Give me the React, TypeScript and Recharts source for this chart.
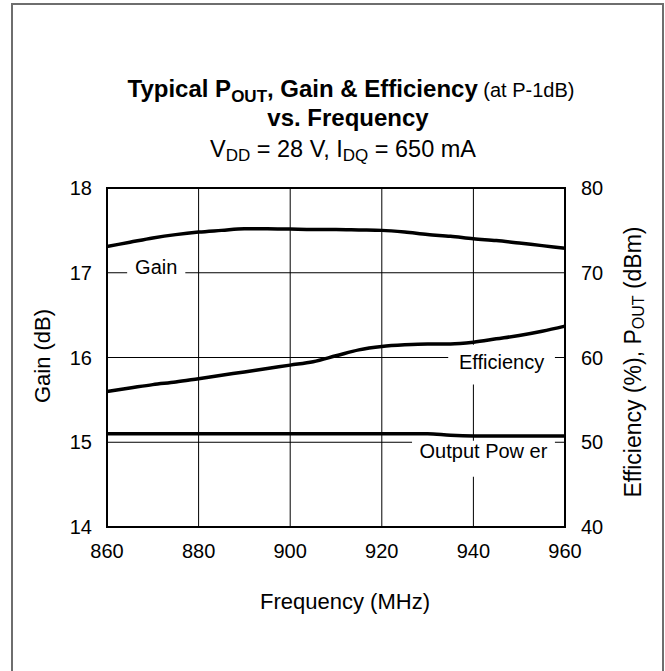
import React from 'react';
import { LineChart, Line, XAxis, YAxis, CartesianGrid, ReferenceArea } from 'recharts';

const frequencies = [860, 865, 870, 875, 880, 885, 890, 895, 900, 905, 910, 915, 920, 925, 930, 935, 940, 945, 950, 955, 960];
const gainDb = [17.31, 17.36, 17.41, 17.45, 17.48, 17.5, 17.52, 17.52, 17.515, 17.51, 17.51, 17.505, 17.5, 17.48, 17.45, 17.43, 17.4, 17.38, 17.35, 17.32, 17.29];
const efficiencyPct = [56.0, 56.4, 56.8, 57.1, 57.5, 57.9, 58.3, 58.7, 59.1, 59.5, 60.2, 60.9, 61.3, 61.5, 61.6, 61.6, 61.8, 62.2, 62.6, 63.1, 63.7];
const outputPowerDbm = [51.0, 51.0, 51.0, 51.0, 51.0, 51.0, 51.0, 51.0, 51.0, 51.0, 51.0, 51.0, 51.0, 51.0, 51.0, 50.82, 50.75, 50.75, 50.75, 50.75, 50.75];
const xTicks = [860, 880, 900, 920, 940, 960];
const gainTicks = [14, 15, 16, 17, 18];
const rightTicks = [40, 50, 60, 70, 80];

const data = frequencies.map((f, i) => ({
  freq: f,
  gain: gainDb[i],
  efficiency: efficiencyPct[i],
  pout: outputPowerDbm[i],
}));

const FONT = '"Liberation Sans", Arial, Helvetica, sans-serif';

const boxLabel = (text: string, dy: number) => (props: any) => {
  const vb = props.viewBox || props;
  const cx = vb.x + vb.width / 2;
  const cy = vb.y + vb.height / 2 + dy;
  return (
    <text x={cx} y={cy + 7} textAnchor="middle" fontFamily={FONT} fontSize={20} fill="#000">
      {text}
    </text>
  );
};

const tickStyle = { fill: '#000', fontSize: 20, fontFamily: FONT };

export default function App() {
  return (
    <div style={{ position: 'absolute', left: 0, top: 0, width: 665, height: 671, overflow: 'hidden', background: '#fff' }}>
      <div
        style={{
          position: 'absolute',
          left: 11,
          top: 3,
          width: 649,
          height: 720,
          borderLeft: '2px solid #6e6e6e',
          borderRight: '2px solid #6e6e6e',
          borderTop: '2px solid #6e6e6e',
        }}
      />
      <div style={{ position: 'absolute', left: 0, top: 0 }}>
        <LineChart width={665} height={671} data={data} margin={{ top: 188, right: 40, bottom: 114, left: 47 }}>
          <CartesianGrid yAxisId="left" stroke="#000" strokeWidth={1} fill="none" />
          <XAxis
            dataKey="freq"
            type="number"
            domain={[860, 960]}
            ticks={xTicks}
            interval={0}
            axisLine={false}
            tickLine={false}
            tickMargin={11}
            height={30}
            tick={tickStyle}
          />
          <YAxis
            yAxisId="left"
            orientation="left"
            domain={[14, 18]}
            ticks={gainTicks}
            interval={0}
            width={60}
            axisLine={false}
            tickLine={false}
            tickMargin={9}
            tick={tickStyle}
          />
          <YAxis
            yAxisId="right"
            orientation="right"
            domain={[40, 80]}
            ticks={rightTicks}
            interval={0}
            width={60}
            axisLine={false}
            tickLine={false}
            tickMargin={10}
            tick={tickStyle}
          />
          <ReferenceArea yAxisId="left" x1={864.4} x2={877.1} y1={16.89} y2={17.24} fill="#fff" fillOpacity={1} stroke="none" label={boxLabel('Gain', 0)} />
          <ReferenceArea yAxisId="right" x1={934.5} x2={957.8} y1={56.8} y2={61.5} fill="#fff" fillOpacity={1} stroke="none" label={boxLabel('Efficiency', -3)} />
          <ReferenceArea yAxisId="right" x1={926.6} x2={957.8} y1={45.93} y2={50.18} fill="#fff" fillOpacity={1} stroke="none" label={boxLabel('Output Pow er', -7.5)} />
          <ReferenceArea yAxisId="left" x1={860} x2={960} y1={14} y2={18} fill="none" stroke="#000" strokeWidth={2} />
          <Line yAxisId="left" type="monotone" dataKey="gain" stroke="#000" strokeWidth={3.5} dot={false} isAnimationActive={false} />
          <Line yAxisId="right" type="monotone" dataKey="efficiency" stroke="#000" strokeWidth={3.5} dot={false} isAnimationActive={false} />
          <Line yAxisId="right" type="monotone" dataKey="pout" stroke="#000" strokeWidth={3.5} dot={false} isAnimationActive={false} />
        </LineChart>
      </div>
      <svg width={665} height={671} style={{ position: 'absolute', left: 0, top: 0, pointerEvents: 'none' }} fontFamily={FONT}>
        <text x={351} y={97} textAnchor="middle" fill="#000">
          <tspan fontWeight="bold" fontSize={24}>Typical P</tspan>
          <tspan fontWeight="bold" fontSize={17} dy={5}>OUT</tspan>
          <tspan fontWeight="bold" fontSize={24} dy={-5}>, Gain &amp; Efficiency</tspan>
          <tspan fontSize={20}> (at P-1dB)</tspan>
        </text>
        <text x={348} y={126} textAnchor="middle" fontWeight="bold" fontSize={24} fill="#000">vs. Frequency</text>
        <text x={343} y={157} textAnchor="middle" fontSize={23.5} fill="#000">
          <tspan>V</tspan>
          <tspan fontSize={17} dy={4}>DD</tspan>
          <tspan dy={-4}> = 28 V, I</tspan>
          <tspan fontSize={17} dy={4}>DQ</tspan>
          <tspan dy={-4}> = 650 mA</tspan>
        </text>
        <text x={345} y={609} textAnchor="middle" fontSize={22} fill="#000">Frequency (MHz)</text>
        <text transform="translate(50,356) rotate(-90)" textAnchor="middle" fontSize={22} fill="#000">Gain (dB)</text>
        <text transform="translate(641,362) rotate(-90)" textAnchor="middle" fontSize={23} fill="#000">
          <tspan>Efficiency (%), P</tspan>
          <tspan fontSize={16} dy={3}>OUT</tspan>
          <tspan dy={-3}> (dBm)</tspan>
        </text>
      </svg>
    </div>
  );
}
